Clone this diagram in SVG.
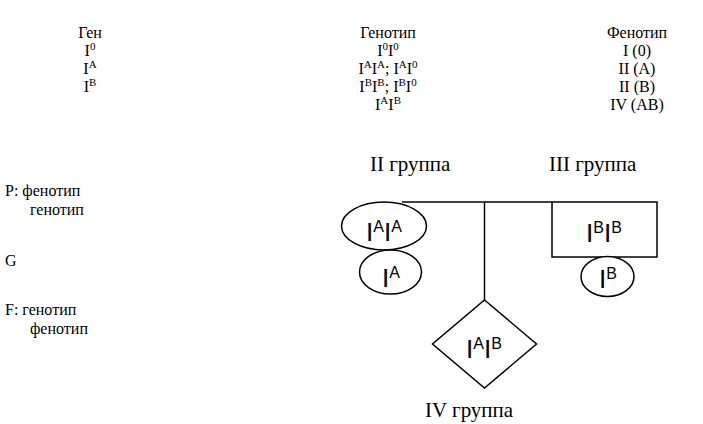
<svg xmlns="http://www.w3.org/2000/svg" width="703" height="424" viewBox="0 0 703 424">
<style>
.t{font-family:"Liberation Serif","Times New Roman",serif;font-size:16px;fill:#000}
.c{text-anchor:middle}
.s{font-size:11px}
.gl{font-size:21px}
.g{font-family:"Liberation Sans",Arial,sans-serif;font-size:26px;fill:#000}
.gs{font-size:16px}
.sh{fill:#fff;stroke:#000;stroke-width:1.5}
.ln{stroke:#000;stroke-width:1.5;fill:none}
</style>
<rect width="703" height="424" fill="#fff"/>
<g id="table">
<text class="t c" x="90" y="38">Ген</text>
<text class="t c" x="90" y="56">I<tspan class="s" dy="-6">0</tspan></text>
<text class="t c" x="90" y="74">I<tspan class="s" dy="-6">A</tspan></text>
<text class="t c" x="90" y="92">I<tspan class="s" dy="-6">B</tspan></text>
<text class="t c" x="388" y="38">Генотип</text>
<text class="t c" x="388" y="56">I<tspan class="s" dy="-6">0</tspan><tspan dy="6">I</tspan><tspan class="s" dy="-6">0</tspan></text>
<text class="t c" x="388" y="74">I<tspan class="s" dy="-6">A</tspan><tspan dy="6">I</tspan><tspan class="s" dy="-6">A</tspan><tspan dy="6">; I</tspan><tspan class="s" dy="-6">A</tspan><tspan dy="6">I</tspan><tspan class="s" dy="-6">0</tspan></text>
<text class="t c" x="388" y="92">I<tspan class="s" dy="-6">B</tspan><tspan dy="6">I</tspan><tspan class="s" dy="-6">B</tspan><tspan dy="6">; I</tspan><tspan class="s" dy="-6">B</tspan><tspan dy="6">I</tspan><tspan class="s" dy="-6">0</tspan></text>
<text class="t c" x="388" y="110">I<tspan class="s" dy="-6">A</tspan><tspan dy="6">I</tspan><tspan class="s" dy="-6">B</tspan></text>
<text class="t c" x="637" y="38">Фенотип</text>
<text class="t c" x="637" y="56">I (0)</text>
<text class="t c" x="637" y="74">II (A)</text>
<text class="t c" x="637" y="92">II (B)</text>
<text class="t c" x="637" y="110">IV (AB)</text>
</g>
<g id="labels">
<text class="t" x="5" y="196">P: фенотип</text>
<text class="t" x="30" y="215">генотип</text>
<text class="t" x="5" y="266">G</text>
<text class="t" x="5" y="315">F: генотип</text>
<text class="t" x="30" y="334">фенотип</text>
<text class="t gl" x="370" y="171">II группа</text>
<text class="t gl" x="549" y="171">III группа</text>
<text class="t gl" x="425" y="417">IV группа</text>
</g>
<g id="connectors">
<line class="ln" x1="402" y1="202" x2="552" y2="202"/>
<line class="ln" x1="484.5" y1="202" x2="484.5" y2="300"/>
</g>
<g id="mother">
<ellipse class="sh" cx="384" cy="226" rx="42.5" ry="24"/>
<text class="g" x="366" y="241">I<tspan class="gs" dy="-9">A</tspan><tspan dy="9">I</tspan><tspan class="gs" dy="-9">A</tspan></text>
</g>
<g id="mother-gamete">
<ellipse class="sh" cx="390.5" cy="272" rx="31" ry="22"/>
<text class="g" x="382" y="287">I<tspan class="gs" dy="-9">A</tspan></text>
</g>
<g id="father">
<rect class="sh" x="552" y="202" width="105" height="55"/>
<text class="g" x="586" y="242">I<tspan class="gs" dy="-9">B</tspan><tspan dy="9">I</tspan><tspan class="gs" dy="-9">B</tspan></text>
</g>
<g id="father-gamete">
<ellipse class="sh" cx="607.5" cy="276.5" rx="26.5" ry="20"/>
<text class="g" x="599" y="288">I<tspan class="gs" dy="-9">B</tspan></text>
</g>
<g id="child">
<polygon class="sh" points="484.5,300 536.5,344 484.5,388 432.5,344"/>
<text class="g" x="466" y="358">I<tspan class="gs" dy="-9">A</tspan><tspan dy="9">I</tspan><tspan class="gs" dy="-9">B</tspan></text>
</g>
</svg>
